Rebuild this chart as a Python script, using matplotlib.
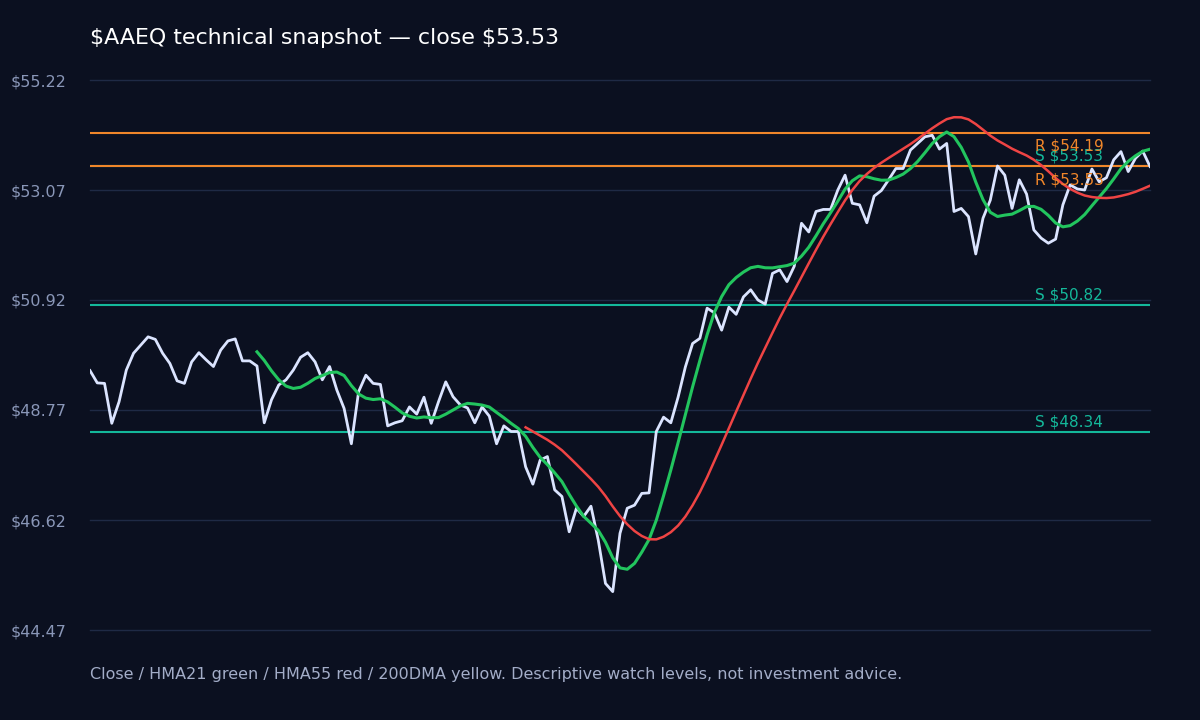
import numpy as np
import matplotlib
matplotlib.use("Agg")
import matplotlib.pyplot as plt

plt.rcParams["text.parse_math"] = False

ticker = "AAEQ"
close = [
    49.54, 49.30, 49.29, 48.51, 48.93, 49.55, 49.88, 50.04, 50.20, 50.15,
    49.88, 49.68, 49.34, 49.29, 49.71, 49.89, 49.75, 49.62, 49.94, 50.12,
    50.16, 49.73, 49.73, 49.63, 48.52, 48.97, 49.26, 49.36, 49.55, 49.80,
    49.89, 49.71, 49.36, 49.62, 49.16, 48.80, 48.11, 49.13, 49.45, 49.29,
    49.27, 48.46, 48.52, 48.56, 48.83, 48.69, 49.02, 48.51, 48.93, 49.32,
    49.03, 48.87, 48.81, 48.52, 48.83, 48.65, 48.11, 48.46, 48.35, 48.35,
    47.66, 47.32, 47.79, 47.86, 47.21, 47.08, 46.39, 46.85, 46.69, 46.89,
    46.23, 45.38, 45.22, 46.36, 46.85, 46.91, 47.14, 47.15, 48.35, 48.63,
    48.52, 49.02, 49.61, 50.07, 50.17, 50.76, 50.67, 50.33, 50.78, 50.64,
    50.98, 51.12, 50.92, 50.84, 51.44, 51.51, 51.28, 51.58, 52.42, 52.25,
    52.65, 52.69, 52.69, 53.07, 53.36, 52.81, 52.78, 52.43, 52.95, 53.06,
    53.27, 53.49, 53.49, 53.85, 53.98, 54.11, 54.14, 53.87, 53.98, 52.65,
    52.71, 52.55, 51.82, 52.52, 52.87, 53.54, 53.36, 52.71, 53.27, 52.99,
    52.29, 52.13, 52.03, 52.11, 52.78, 53.17, 53.09, 53.07, 53.48, 53.23,
    53.31, 53.66, 53.82, 53.43, 53.69, 53.83, 53.53,
]
resistance_levels = [54.19, 53.53]
support_levels = [53.53, 50.82, 48.34]
y_ticks = [44.47, 46.62, 48.77, 50.92, 53.07, 55.22]
hma_fast_period = 21
hma_slow_period = 55

title = "$AAEQ technical snapshot \u2014 close $53.53"
caption = "Close / HMA21 green / HMA55 red / 200DMA yellow. Descriptive watch levels, not investment advice."


def wma(x, n):
    w = np.arange(1, n + 1, dtype=float)
    out = np.full(len(x), np.nan)
    for i in range(n - 1, len(x)):
        seg = x[i - n + 1:i + 1]
        out[i] = np.dot(seg, w) / w.sum()
    return out


def hma(x, n):
    x = np.asarray(x, dtype=float)
    half = wma(x, n // 2)
    full = wma(x, n)
    diff = 2 * half - full
    s = int(np.sqrt(n))
    w = np.arange(1, s + 1, dtype=float)
    out = np.full(len(x), np.nan)
    for i in range(len(x)):
        seg = diff[max(0, i - s + 1):i + 1]
        if len(seg) == s and not np.isnan(seg).any():
            out[i] = np.dot(seg, w) / w.sum()
    return out


BG = "#0b1020"
x = np.arange(len(close))
h_fast = hma(close, hma_fast_period)
h_slow = hma(close, hma_slow_period)

fig = plt.figure(figsize=(12, 7.2), dpi=100, facecolor=BG)
ax = fig.add_axes([90 / 1200, 90 / 720, 1060 / 1200, 550 / 720])
ax.set_facecolor(BG)
ax.set_xlim(0, len(close) - 1)
ax.set_ylim(min(y_ticks), max(y_ticks))

ax.set_yticks(y_ticks)
ax.set_yticklabels([f"${v:.2f}" for v in y_ticks])
ax.tick_params(axis="y", length=0, pad=17, labelsize=11.5, labelcolor="#8a97b8")
ax.set_xticks([])
for s in ax.spines.values():
    s.set_visible(False)
ax.grid(axis="y", color="#1f2a45", linewidth=1)
ax.set_axisbelow(True)
for gl in ax.get_ygridlines():
    gl.set_clip_on(False)

ax.plot(x, close, color="#dbe4ff", linewidth=2.0, zorder=3)
ax.plot(x, h_fast, color="#22c55e", linewidth=2.2, zorder=4)
ax.plot(x, h_slow, color="#ef4444", linewidth=1.8, zorder=4)

for lv in support_levels:
    ax.axhline(lv, color="#14b89a", linewidth=1.5, zorder=2)
    ax.annotate(f"S ${lv:.2f}", xy=(1035 / 1200, lv), xycoords=("figure fraction", "data"),
                xytext=(0, 2), textcoords="offset points", color="#14b89a",
                fontsize=11, va="bottom", ha="left", zorder=6)
for lv in resistance_levels:
    ax.axhline(lv, color="#f0862a", linewidth=1.5, zorder=2)
    ax.annotate(f"R ${lv:.2f}", xy=(1035 / 1200, lv), xycoords=("figure fraction", "data"),
                xytext=(0, -4), textcoords="offset points", color="#f0862a",
                fontsize=11, va="top", ha="left", zorder=6)

fig.text(90 / 1200, 1 - 38 / 720, title, color="white", fontsize=15.9, va="center", ha="left")
fig.text(90 / 1200, 1 - 675 / 720, caption, color="#a3adc8", fontsize=11.5, va="center", ha="left")

fig.savefig("out.png", dpi=100, facecolor=BG)
